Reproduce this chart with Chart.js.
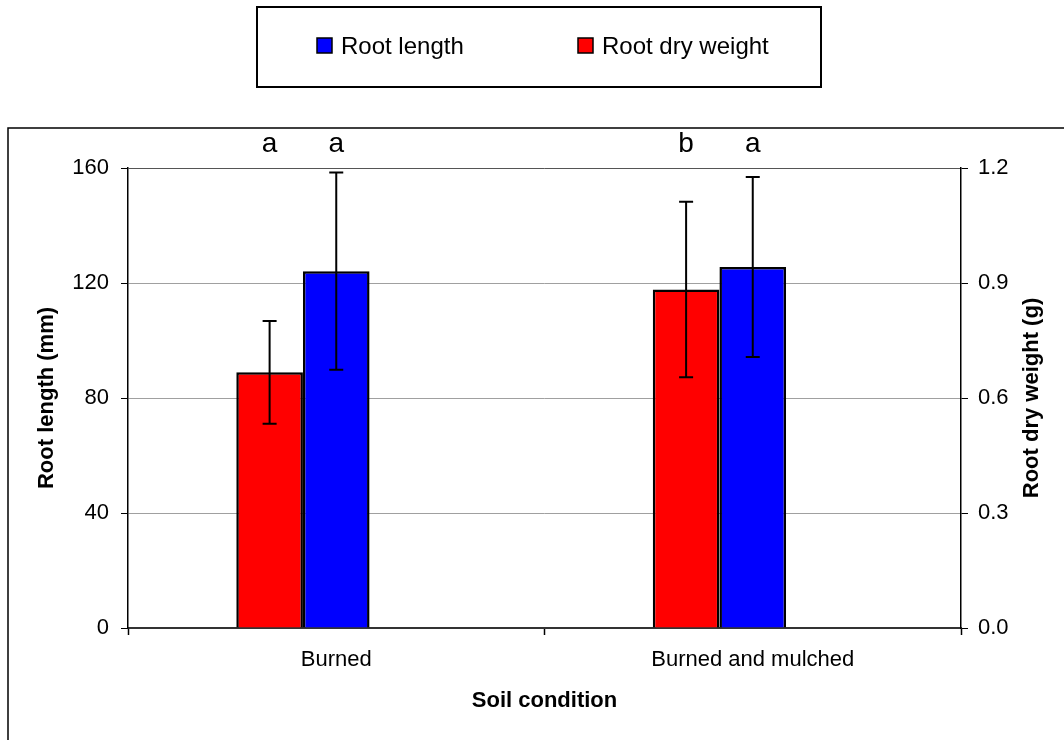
<!DOCTYPE html>
<html>
<head>
<meta charset="utf-8">
<title>Root length and dry weight by soil condition</title>
<script src="https://cdn.jsdelivr.net/npm/chart.js@4.4.1/dist/chart.umd.min.js"></script>
<style>
  body { margin: 0; background: #fff; }
  #wrap { width: 1064px; height: 740px; }
</style>
</head>
<body>
<div id="wrap"><canvas id="rootChart" width="1064" height="740"></canvas></div>
<script>
const soilConditions = ["Burned", "Burned and mulched"];

// root length in mm (left axis), mean and error
const rootLength = [124.1, 125.6];
const rootLengthErr = [34.3, 31.3];
const rootLengthLetters = ["a", "a"];

// root dry weight in g (right axis), mean and error
const rootDryWeight = [0.667, 0.883];
const rootDryWeightErr = [0.134, 0.229];
const rootDryWeightLetters = ["a", "b"];

const lengthTicks = [0, 40, 80, 120, 160];
const weightTicks = [0, 0.3, 0.6, 0.9, 1.2];

const FONT = '"Liberation Sans", Arial, Helvetica, sans-serif';
Chart.defaults.font.family = FONT;
Chart.defaults.color = "#000";

// white page with the thin frame round the plot
const frame = {
  id: "frame",
  beforeDraw(chart) {
    const ctx = chart.ctx;
    ctx.save();
    ctx.fillStyle = "#fff";
    ctx.fillRect(0, 0, chart.width, chart.height);
    ctx.strokeStyle = "#000";
    ctx.lineWidth = 1.5;
    ctx.strokeRect(8, 128, chart.width + 20, chart.height);
    ctx.restore();
  }
};

// boxed legend above the chart, root length listed first
const legendBox = {
  id: "legendBox",
  afterDraw(chart) {
    const ctx = chart.ctx;
    const order = [1, 0];
    const xs = [317, 578];
    ctx.save();
    ctx.strokeStyle = "#000";
    ctx.lineWidth = 2;
    ctx.strokeRect(257, 7, 564, 80);
    ctx.font = "24px " + FONT;
    ctx.textBaseline = "middle";
    order.forEach((di, k) => {
      const ds = chart.data.datasets[di];
      ctx.fillStyle = ds.backgroundColor;
      ctx.fillRect(xs[k], 38, 15, 15);
      ctx.lineWidth = 1.5;
      ctx.strokeRect(xs[k], 38, 15, 15);
      ctx.fillStyle = "#000";
      ctx.fillText(ds.label, xs[k] + 24, 47);
    });
    ctx.restore();
  }
};

// right axis title, reading bottom to top like the left one
const rightTitle = {
  id: "rightTitle",
  afterDraw(chart) {
    const ctx = chart.ctx;
    const area = chart.chartArea;
    ctx.save();
    ctx.translate(1032, (area.top + area.bottom) / 2);
    ctx.rotate(-Math.PI / 2);
    ctx.font = "bold 22px " + FONT;
    ctx.fillStyle = "#000";
    ctx.textAlign = "center";
    ctx.textBaseline = "middle";
    ctx.fillText("Root dry weight (g)", 0, 0);
    ctx.restore();
  }
};

// error bars and significance letters over each bar
const errorBars = {
  id: "errorBars",
  afterDatasetsDraw(chart) {
    const ctx = chart.ctx;
    ctx.save();
    ctx.strokeStyle = "#000";
    ctx.lineWidth = 2;
    ctx.font = "28px " + FONT;
    ctx.fillStyle = "#000";
    ctx.textAlign = "center";
    ctx.textBaseline = "alphabetic";
    chart.data.datasets.forEach((ds, i) => {
      if (!ds.errors) return;
      const meta = chart.getDatasetMeta(i);
      const scale = chart.scales[meta.yAxisID];
      meta.data.forEach((bar, j) => {
        const v = ds.data[j];
        const e = ds.errors[j];
        const yTop = scale.getPixelForValue(v + e);
        const yBot = scale.getPixelForValue(v - e);
        ctx.beginPath();
        ctx.moveTo(bar.x, yTop);
        ctx.lineTo(bar.x, yBot);
        ctx.moveTo(bar.x - 7, yTop);
        ctx.lineTo(bar.x + 7, yTop);
        ctx.moveTo(bar.x - 7, yBot);
        ctx.lineTo(bar.x + 7, yBot);
        ctx.stroke();
        ctx.fillText(ds.letters[j], bar.x, 152);
      });
    });
    ctx.restore();
  }
};

new Chart(document.getElementById("rootChart"), {
  type: "bar",
  data: {
    labels: soilConditions,
    datasets: [
      {
        label: "Root dry weight",
        data: rootDryWeight,
        errors: rootDryWeightErr,
        letters: rootDryWeightLetters,
        yAxisID: "y1",
        backgroundColor: "#ff0000",
        borderColor: "#000",
        borderWidth: 2.5
      },
      {
        label: "Root length",
        data: rootLength,
        errors: rootLengthErr,
        letters: rootLengthLetters,
        yAxisID: "y",
        backgroundColor: "#0000ff",
        borderColor: "#000",
        borderWidth: 2.5
      },
      {
        // empty slot so the blue bar sits in the middle of its category
        label: "",
        data: [null, null],
        yAxisID: "y"
      }
    ]
  },
  options: {
    responsive: false,
    animation: false,
    categoryPercentage: 0.48,
    barPercentage: 1.0,
    layout: { padding: { top: 168, left: 0, right: 0, bottom: 0 } },
    plugins: {
      legend: { display: false },
      tooltip: { enabled: false }
    },
    scales: {
      x: {
        offset: true,
        grid: {
          offset: true,
          drawOnChartArea: false,
          tickLength: 7,
          tickColor: "#000",
          tickWidth: 1.5
        },
        border: { color: "#333", width: 2 },
        ticks: { color: "#000", font: { size: 22 }, padding: 12 },
        title: {
          display: true,
          text: "Soil condition",
          color: "#000",
          font: { size: 22, weight: "bold" },
          padding: { top: 0, bottom: 26 }
        },
        afterFit(s) { s.height = 112; }
      },
      y: {
        position: "left",
        min: lengthTicks[0],
        max: lengthTicks[lengthTicks.length - 1],
        afterBuildTicks(s) { s.ticks = lengthTicks.map(v => ({ value: v })); },
        grid: {
          color: c => (c.tick && c.tick.value === 160 ? "#555" : "#a0a0a0"),
          lineWidth: 1,
          tickColor: "#000",
          tickLength: 7
        },
        border: { color: "#000", width: 1.5 },
        ticks: { color: "#000", font: { size: 22 }, padding: 12 },
        title: {
          display: true,
          text: "Root length (mm)",
          color: "#000",
          font: { size: 22, weight: "bold" },
          padding: { top: 34, bottom: 0 }
        },
        afterFit(s) { s.width = 128; }
      },
      y1: {
        position: "right",
        min: weightTicks[0],
        max: weightTicks[weightTicks.length - 1],
        afterBuildTicks(s) { s.ticks = weightTicks.map(v => ({ value: v })); },
        grid: {
          drawOnChartArea: false,
          tickColor: "#000",
          tickLength: 7
        },
        border: { color: "#000", width: 1.5 },
        ticks: {
          color: "#000",
          font: { size: 22 },
          padding: 10,
          callback: v => Number(v).toFixed(1)
        },
        afterFit(s) { s.width = 103; }
      }
    }
  },
  plugins: [frame, legendBox, rightTitle, errorBars]
});
</script>
</body>
</html>
